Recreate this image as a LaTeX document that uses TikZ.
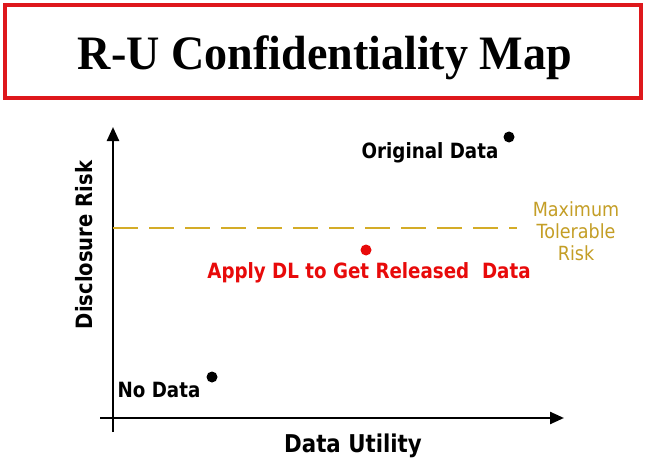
\documentclass[tikz,border=0pt]{standalone}
\usepackage{fontspec}
\setmainfont{DejaVu Sans}
\newfontfamily\titlefont{Liberation Serif}[FakeStretch=0.96]
\newfontfamily\lblfont{DejaVu Sans}[FakeStretch=0.87]
\newfontfamily\notefont{DejaVu Sans}[FakeStretch=0.9]
\usetikzlibrary{arrows.meta}

\definecolor{framered}{RGB}{222,24,28}
\definecolor{gold}{RGB}{212,172,40}
\definecolor{goldtext}{RGB}{196,158,38}
\definecolor{relred}{RGB}{232,10,10}

\tikzset{
  axis/.style={line width=2.4pt, -{Triangle[length=14pt,width=12pt]}},
  lbl/.style={font=\lblfont\fontsize{21}{24}\selectfont\bfseries, inner sep=0pt},
  dot/.style={circle, fill=black, inner sep=0pt, minimum size=11pt},
}

\begin{document}
\begin{tikzpicture}[x=1pt, y=-1pt]
  \path[use as bounding box, fill=white] (0,0) rectangle (646,460);

  % title banner
  \draw[framered, line width=4pt] (5,5) rectangle (641,98);
  \node[anchor=base, inner sep=0pt, font=\titlefont\fontsize{48}{52}\selectfont\bfseries]
    (title) at (325,70) {R-U Confidentiality Map};

  % axes
  \coordinate (ybot) at (113,432);
  \coordinate (ytop) at (113,127);
  \coordinate (xleft) at (100,418);
  \coordinate (xright) at (564,418);
  \draw[axis] (ybot) -- (ytop);
  \draw[axis] (xleft) -- (xright);

  % maximum tolerable risk threshold
  \coordinate (thrA) at (113,228);
  \coordinate (thrB) at (517,228);
  \draw[gold, line width=2.4pt, dash pattern=on 25pt off 11pt] (thrA) -- (thrB);
  \node[goldtext, align=center, inner sep=0pt, anchor=base,
        font=\notefont\fontsize{19.5}{22}\selectfont] (maxrisk) at (576,260)
    {Maximum\\Tolerable\\Risk};

  % points on the map
  \node[dot] (orig) at (509,137) {};
  \node[dot, fill=relred] (rel) at (366,250) {};
  \node[dot] (none) at (212,377) {};

  \node[lbl, anchor=base] (origlbl) at (430,158) {Original Data};
  \node[lbl, anchor=base, text=relred] (rellbl) at (369,278) {Apply DL to Get Released\ \ Data};
  \node[lbl, anchor=base] (nonelbl) at (159,397) {No Data};

  % axis titles
  \node[inner sep=0pt, anchor=base, font=\lblfont\fontsize{24.5}{28}\selectfont\bfseries]
    (xlbl) at (353,452) {Data Utility};
  \node[inner sep=0pt, anchor=base, rotate=90, font=\lblfont\fontsize{22.5}{26}\selectfont\bfseries]
    (ylbl) at (92,245) {Disclosure Risk};
\end{tikzpicture}
\end{document}
